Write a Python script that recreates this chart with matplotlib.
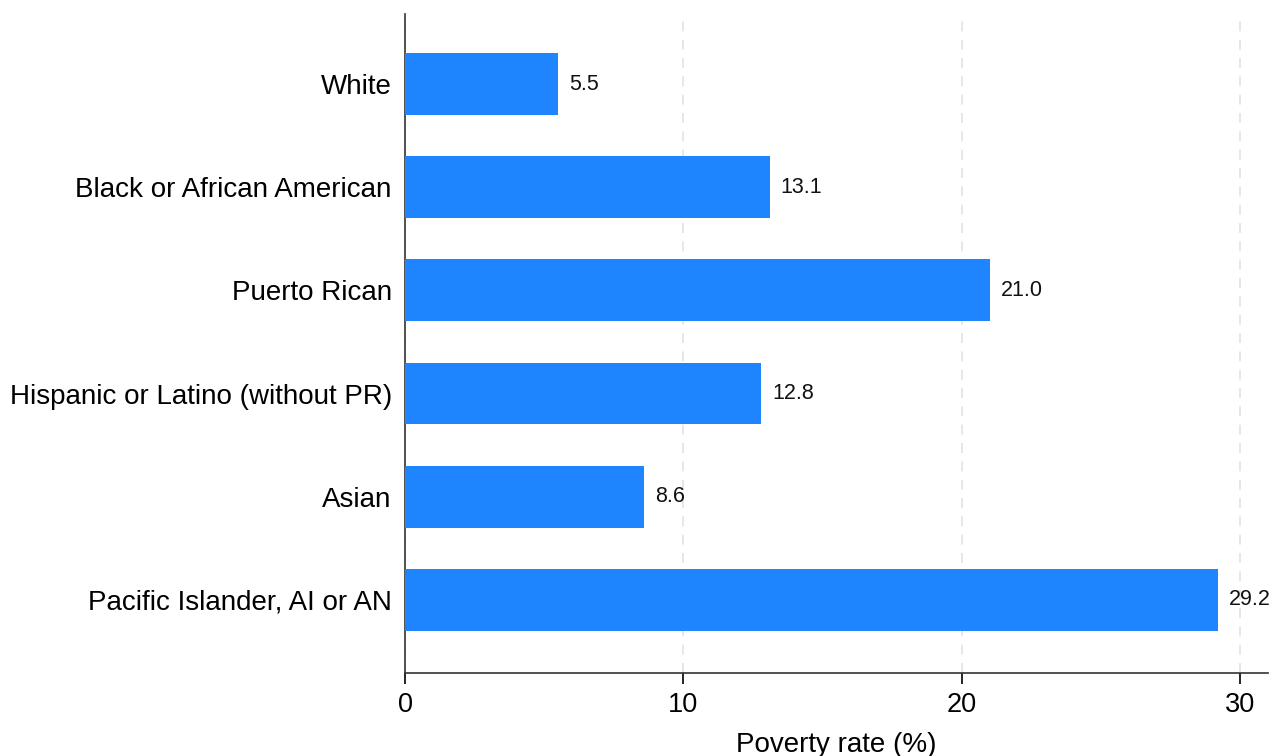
import matplotlib.pyplot as plt

# poverty rate by group
groups = ["White", "Black or African American", "Puerto Rican",
          "Hispanic or Latino (without PR)", "Asian", "Pacific Islander, AI or AN"]
rates = [5.5, 13.1, 21.0, 12.8, 8.6, 29.2]
xticks = [0, 10, 20, 30]

plt.rcParams['font.family'] = ['Liberation Sans', 'DejaVu Sans']

fig = plt.figure(figsize=(12.76, 7.56), dpi=100)
ax = fig.add_axes([0.3174, 0.1098, 0.6763, 0.8717])

ypos = list(range(len(groups)))
ax.barh(ypos, rates, height=0.6, color="#1E85FF", zorder=3)
for y, v in zip(ypos, rates):
    ax.text(v + 0.4, y, f"{v:.1f}", va="center", ha="left", fontsize=15.5, color="#111111")

ax.set_ylim(len(groups) - 0.29, -0.68)
ax.set_xlim(0, 31)
ax.set_yticks(ypos)
ax.set_yticklabels(groups, fontsize=20)
ax.set_xticks(xticks)
ax.tick_params(axis="x", labelsize=19.5, length=8, width=1.2, direction="out", pad=6)
ax.tick_params(axis="y", length=0, pad=9.5)

ax.xaxis.grid(True, linestyle=(0, (6, 5)), color="#e3e3e3", linewidth=1.2, zorder=0)
ax.set_axisbelow(True)

for s in ["top", "right"]:
    ax.spines[s].set_visible(False)
for s in ["left", "bottom"]:
    ax.spines[s].set_linewidth(1.2)
    ax.spines[s].set_color("#333333")

ax.set_xlabel("Poverty rate (%)", fontsize=20, labelpad=10)

fig.savefig("out.png", dpi=100)
